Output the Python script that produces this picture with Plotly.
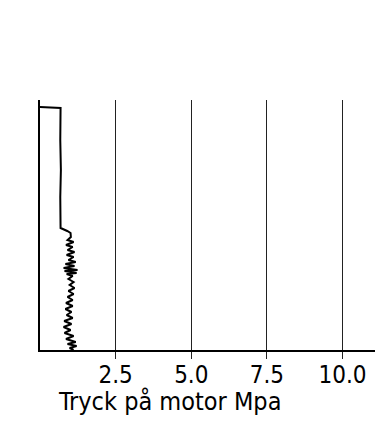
import plotly.graph_objects as go

# Pressure on motor (MPa) vs depth (arbitrary units, increasing downward)
pressure = [0.0, 0.68, 0.67, 0.69, 0.67, 0.69, 0.68, 0.90, 1.01, 1.02,
            0.91, 1.11, 0.86, 1.08, 0.91, 1.14, 0.88, 1.11, 0.94, 1.18,
            0.84, 1.14, 0.78, 1.24, 0.81, 1.21, 0.88, 1.08, 0.94, 1.11,
            0.98, 1.14, 0.94, 1.11, 0.91, 1.08, 0.86, 1.08, 0.84, 1.04,
            0.88, 1.08, 0.80, 1.04, 0.78, 1.01, 0.81, 1.11, 0.86, 1.18,
            0.91, 1.21, 0.98, 1.11]
depth = [7, 8, 40, 70, 97, 120, 128, 131, 133, 137,
         140, 142, 145, 147, 150, 152, 155, 157, 160, 162,
         164, 166, 168, 170, 171, 173, 174, 176, 179, 182,
         185, 188, 191, 194, 197, 200, 203, 206, 209, 212,
         215, 218, 221, 224, 227, 230, 233, 236, 239, 242,
         244, 246, 248, 250]

tick_vals = [2.5, 5.0, 7.5, 10.0]
tick_text = ["2.5", "5.0", "7.5", "10.0"]
x_title = "Tryck på motor Mpa"

FONT = "DejaVu Sans Condensed, Liberation Sans Narrow, DejaVu Sans, sans-serif"

fig = go.Figure()
fig.add_trace(go.Scatter(x=pressure, y=depth, mode="lines",
                         line=dict(color="black", width=2),
                         showlegend=False, hoverinfo="skip"))

fig.update_layout(
    width=375, height=411,
    margin=dict(l=32, r=2, t=92, b=69),
    paper_bgcolor="white", plot_bgcolor="white",
    font=dict(family=FONT, color="black", size=24),
    xaxis=dict(range=[0, 11.27], tickvals=tick_vals, ticktext=tick_text,
               showgrid=True, gridcolor="#222", gridwidth=1,
               showline=True, linecolor="black", linewidth=2,
               ticks="outside", ticklen=7, tickcolor="#222", tickwidth=1,
               ticklabelstandoff=-5,
               zeroline=False, automargin=False,
               tickfont=dict(size=24, family=FONT)),
    yaxis=dict(range=[250, 0], showgrid=False, zeroline=False,
               showline=True, linecolor="black", linewidth=2,
               showticklabels=False, ticks="", automargin=False),
    annotations=[dict(text=x_title, xref="paper", yref="paper",
                      x=0.38, y=-0.138, xanchor="center", yanchor="top",
                      showarrow=False,
                      font=dict(size=25, family=FONT))],
)

fig.write_html("out.html")
